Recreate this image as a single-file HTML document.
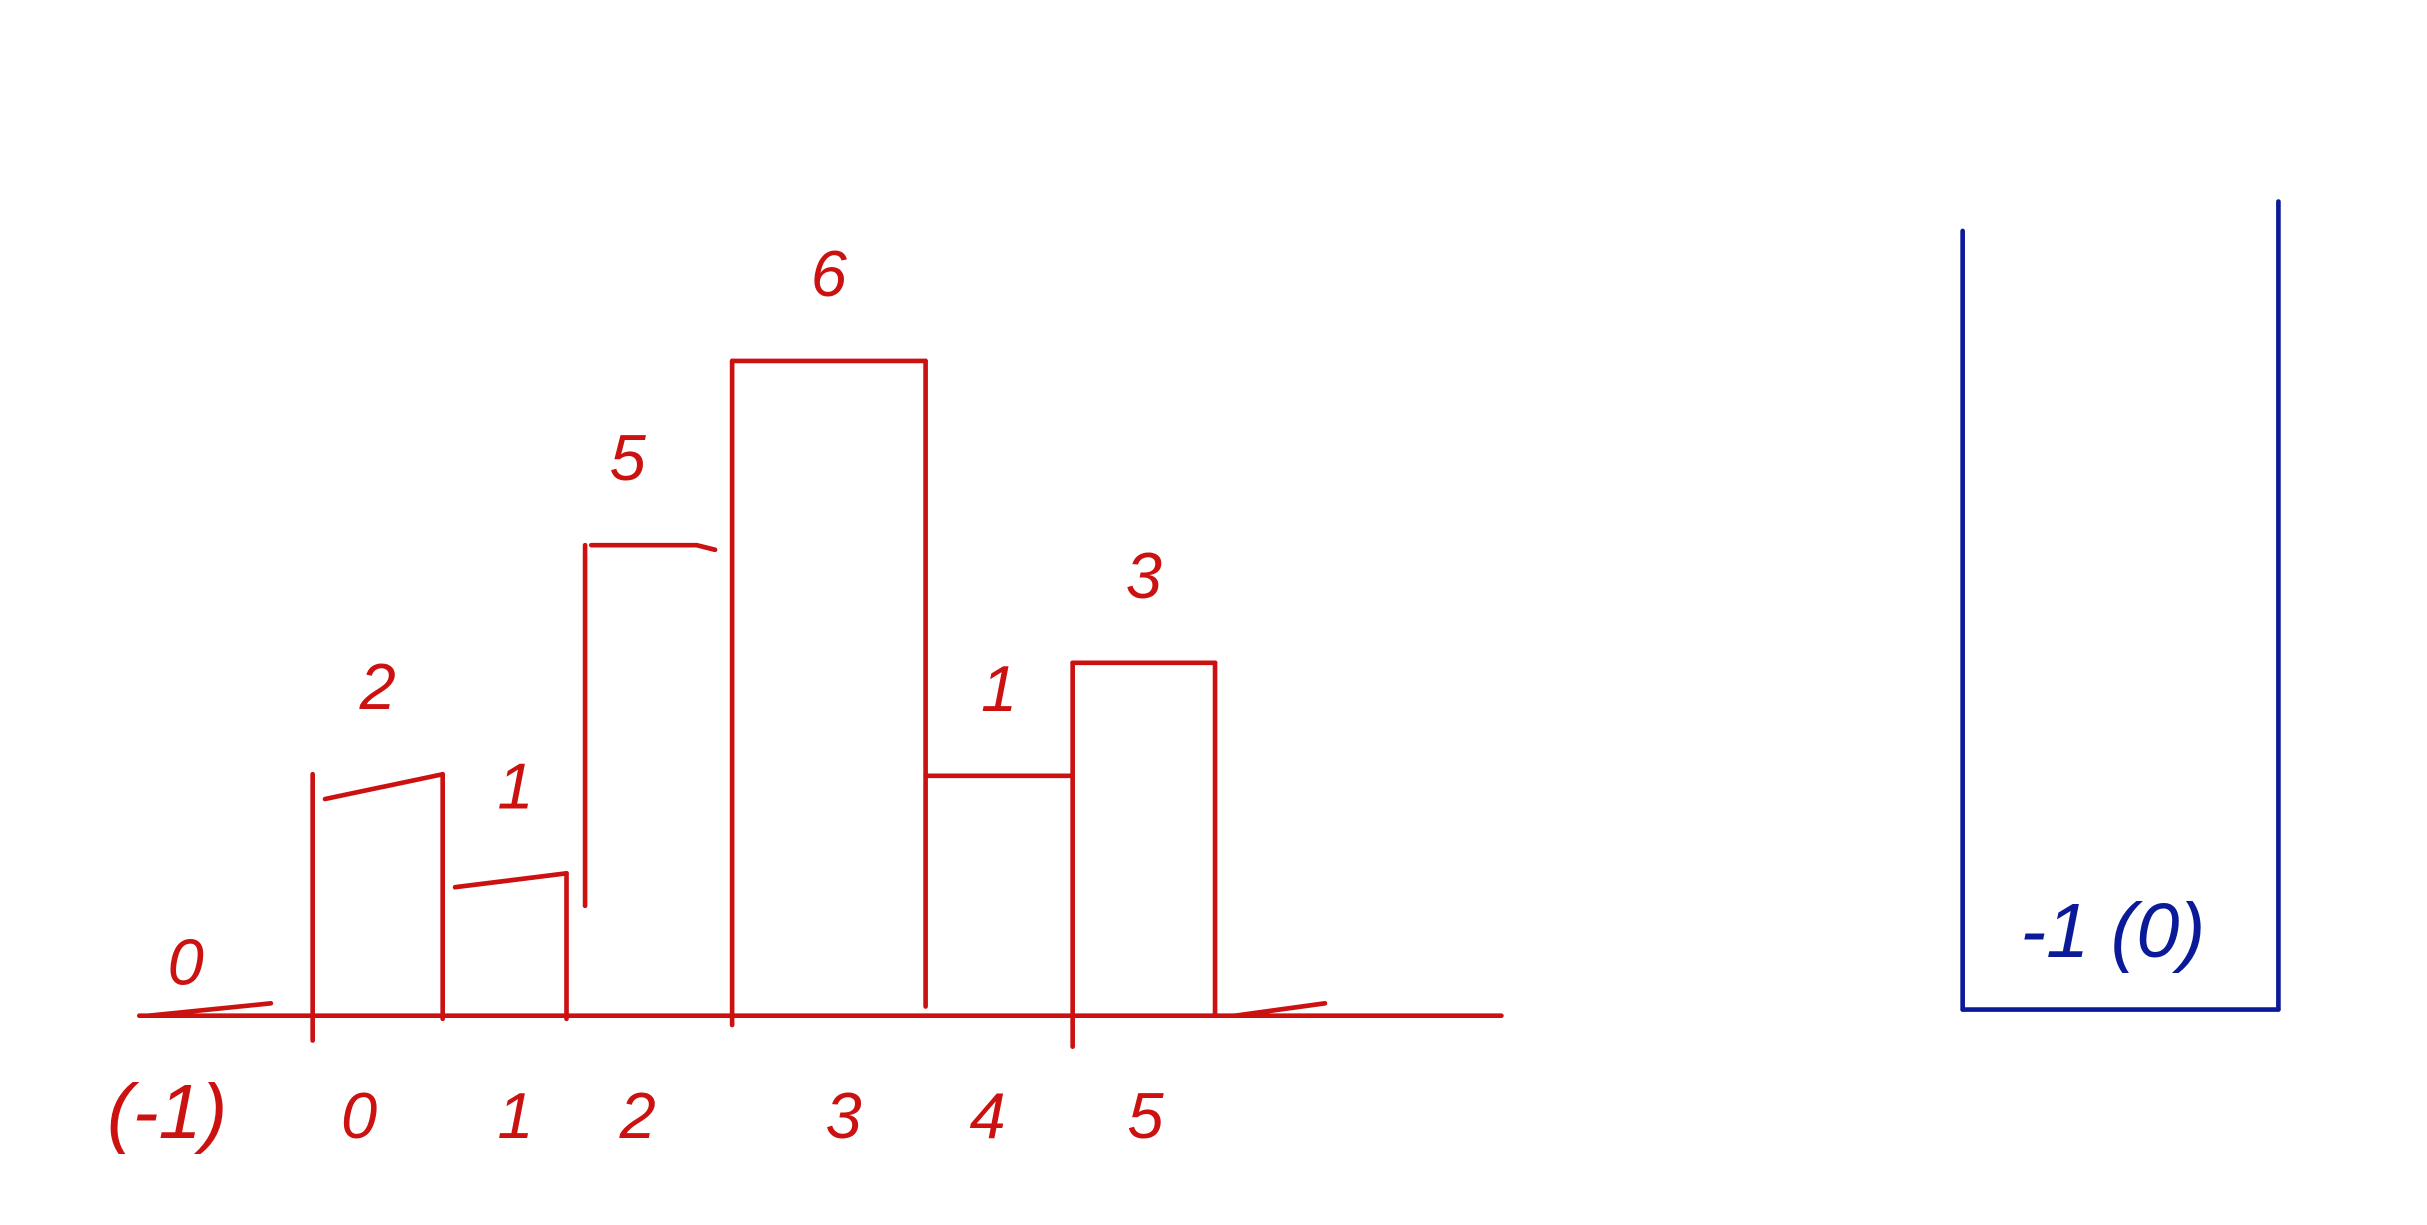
<!DOCTYPE html>
<html><head><meta charset="utf-8">
<style>
html,body{margin:0;padding:0;background:#fff;width:2427px;height:1225px;overflow:hidden}
svg{display:block}
text{font-family:"Liberation Sans",sans-serif;font-style:italic}
</style></head>
<body>
<svg id="chart" width="2427" height="1225" viewBox="0 0 1568 791" xmlns="http://www.w3.org/2000/svg">
<g id="red" stroke="#cc1111" stroke-width="3" stroke-linecap="round" fill="none"></g>
<g id="blue" stroke="#0a1a99" stroke-width="3" stroke-linecap="round" fill="none"></g>
</svg>
<script>
const categories = ["(-1)","0","1","2","3","4","5"];
const barLabels = ["0","2","1","5","6","1","3"];
const drawnHeights = [0, 1.56, 0.92, 3.04, 4.23, 1.55, 2.28];
const blueLabel = "-1 (0)";

const NS = "http://www.w3.org/2000/svg";
const red = document.getElementById('red');
const blue = document.getElementById('blue');
const edgePx = [90, 202, 286, 366, 473, 598, 693, 785];
const tickBottom = [656, 672, 658, 658, 662, 650, 676, 656];
const slope = [0, 16, 9, 0, 0, 0, 0, 0];
function xs(i){ return edgePx[i]; }
function ys(v){ return 656 - v*100; }
function line(g,x1,y1,x2,y2,name){
  const l=document.createElementNS(NS,'line');
  l.setAttribute('x1',x1);l.setAttribute('y1',y1);l.setAttribute('x2',x2);l.setAttribute('y2',y2);
  
  
  g.appendChild(l);
}
function txt(x,y,s,col,size,name){
  const t=document.createElementNS(NS,'text');
  t.setAttribute('x',x);t.setAttribute('y',y);t.setAttribute('fill',col);
  t.setAttribute('font-size',size);t.setAttribute('text-anchor','middle');
  t.textContent=s;
  
  
  document.getElementById('chart').appendChild(t);
}
line(red,90,656,970,656,'x-axis-baseline');
for(let i=1;i<drawnHeights.length;i++){
  let x0=xs(i), x1=xs(i+1);
  const y=ys(drawnHeights[i]);
  const prevY=ys(drawnHeights[i-1]);
  if(i===3){
    line(red,378,y,378,585,'bar-left-edge');
    line(red,xs(i),ys(drawnHeights[i-1]),xs(i),tickBottom[i],'bar-left-edge');
    line(red,382,y,450,y,'bar-top');
    line(red,450,y,462,y+3,'bar-top');
    continue;
  }
  line(red,x0,Math.min(y,prevY),x0,tickBottom[i],'bar-left-edge');
  line(red,x0+(slope[i]?8:0),y+slope[i],x1,y,'bar-top');
}
line(red,xs(7),ys(drawnHeights[6]),xs(7),tickBottom[7],'bar-right-edge');
line(red,96,656,175,648,'zero-bar-scribble');
line(red,798,656,856,648,'zero-bar-scribble');
for(let i=0;i<barLabels.length;i++){
  const cx = i===0 ? 120 : (xs(i)+xs(i+1))/2 + (i===3?-14:0) + (i===2?7:0);
  const y = i===0 ? 636 : ys(drawnHeights[i]) - 42;
  txt(cx,y,barLabels[i],'#cc1111',42,'bar-count-label');
}
const catX=[108,232,333,412,545,638,740];
for(let i=0;i<categories.length;i++){
  txt(catX[i],735,categories[i],'#cc1111',i===0?50:42,'x-tick-label');
}
line(blue,1268,149,1268,652,'blue-left-wall');
line(blue,1472,130,1472,652,'blue-right-wall');
line(blue,1268,652,1472,652,'blue-bottom');
txt(1365,618,blueLabel,'#0a1a99',50,'blue-bin-label');
</script>
</body></html>
